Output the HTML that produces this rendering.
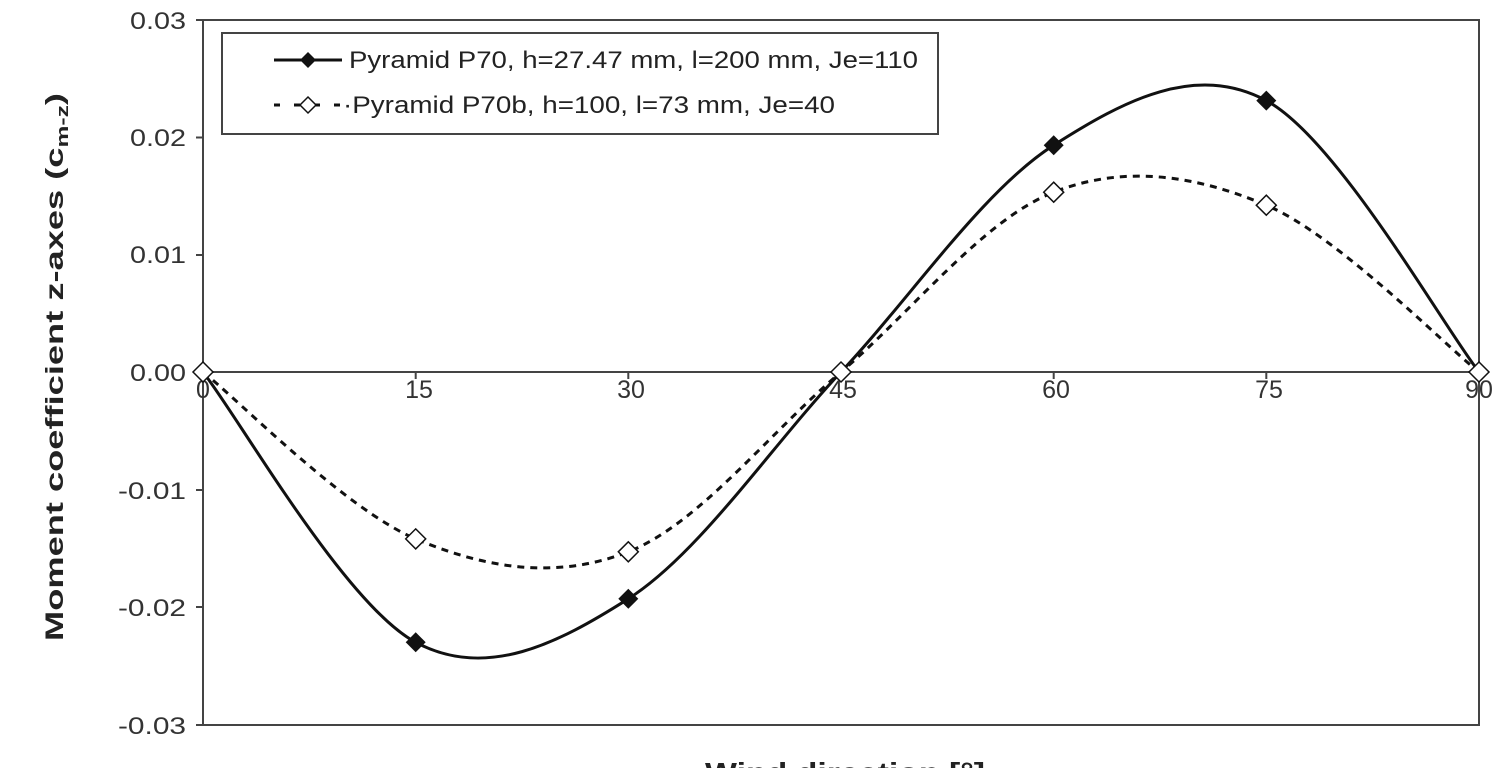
<!DOCTYPE html>
<html><head><meta charset="utf-8"><style>
body{margin:0;background:#fff;width:1502px;height:768px;overflow:hidden}
svg{display:block;font-family:"Liberation Sans",Arial,sans-serif}
</style></head><body>
<svg id="s" width="1502" height="768" viewBox="0 0 1502 768">
<rect x="203" y="20" width="1276" height="705" fill="none" stroke="#444" stroke-width="2"/>
<line x1="203" y1="372" x2="1479" y2="372" stroke="#444" stroke-width="2"/>
<g stroke="#444" stroke-width="2">
<line x1="196" y1="20" x2="203" y2="20"/><line x1="196" y1="137.5" x2="203" y2="137.5"/>
<line x1="196" y1="255" x2="203" y2="255"/><line x1="196" y1="372" x2="203" y2="372"/>
<line x1="196" y1="490" x2="203" y2="490"/><line x1="196" y1="607" x2="203" y2="607"/>
<line x1="196" y1="725" x2="203" y2="725"/>
<line x1="415.7" y1="372" x2="415.7" y2="379"/><line x1="628.3" y1="372" x2="628.3" y2="379"/>
<line x1="841" y1="372" x2="841" y2="379"/><line x1="1053.7" y1="372" x2="1053.7" y2="379"/>
<line x1="1266.3" y1="372" x2="1266.3" y2="379"/>
</g>
<g font-size="24" fill="#333" text-anchor="end">
<text x="186" y="29" textLength="56" lengthAdjust="spacingAndGlyphs">0.03</text>
<text x="186" y="146" textLength="56" lengthAdjust="spacingAndGlyphs">0.02</text>
<text x="186" y="263" textLength="56" lengthAdjust="spacingAndGlyphs">0.01</text>
<text x="186" y="381" textLength="56" lengthAdjust="spacingAndGlyphs">0.00</text>
<text x="186" y="499" textLength="68" lengthAdjust="spacingAndGlyphs">-0.01</text>
<text x="186" y="616" textLength="68" lengthAdjust="spacingAndGlyphs">-0.02</text>
<text x="186" y="734" textLength="68" lengthAdjust="spacingAndGlyphs">-0.03</text>
</g>
<g font-size="25" fill="#333" text-anchor="middle">
<text x="203" y="398">0</text><text x="419" y="398">15</text><text x="631" y="398">30</text>
<text x="843" y="398">45</text><text x="1056" y="398">60</text><text x="1269" y="398">75</text>
<text x="1479" y="398">90</text>
</g>
<text transform="translate(63,367) rotate(-90)" text-anchor="middle" font-size="25" font-weight="bold" fill="#222" textLength="548" lengthAdjust="spacingAndGlyphs">Moment coefficient z-axes (c<tspan font-size="17" dy="5">m-z</tspan><tspan dy="-5">)</tspan></text>
<text x="845" y="782" text-anchor="middle" font-size="28" font-weight="bold" fill="#222" textLength="280" lengthAdjust="spacingAndGlyphs">Wind direction [°]</text>
<path id="p1" fill="none" stroke="#111" stroke-width="3"/>
<path id="p2" fill="none" stroke="#111" stroke-width="3" stroke-dasharray="7,6"/>
<g id="m"></g>
<rect x="222" y="33" width="716" height="101" fill="#fff" stroke="#444" stroke-width="2"/>
<line x1="274" y1="60" x2="342" y2="60" stroke="#111" stroke-width="3"/>
<path d="M308 52 L316 60 L308 68 L300 60Z" fill="#111"/>
<line x1="274" y1="105" x2="342" y2="105" stroke="#111" stroke-width="3" stroke-dasharray="6,14"/>
<path d="M308 97 L316 105 L308 113 L300 105Z" fill="#fff" stroke="#111" stroke-width="1.5"/>
<text x="349" y="68" font-size="24" fill="#222" textLength="569" lengthAdjust="spacingAndGlyphs">Pyramid P70, h=27.47 mm, l=200 mm, Je=110</text>
<text x="343" y="113" font-size="24" fill="#222" textLength="492" lengthAdjust="spacingAndGlyphs">·Pyramid P70b, h=100, l=73 mm, Je=40</text>
</svg>
<script>
var X=[203,415.7,628.3,841,1053.7,1266.3,1479];
var A=[372,642.3,598.8,372,145.2,100.6,372],B=[372,538.9,551.8,372,192.2,205.2,372];
function cr(Y){var p=X.map((x,i)=>[x,Y[i]]);var d="M"+p[0];for(var i=0;i<p.length-1;i++){var p0=p[i-1]||p[i],p1=p[i],p2=p[i+1],p3=p[i+2]||p[i+1];var t=1/6;d+=" C"+(p1[0]+(p2[0]-p0[0])*t)+","+(p1[1]+(p2[1]-p0[1])*t)+" "+(p2[0]-(p3[0]-p1[0])*t)+","+(p2[1]-(p3[1]-p1[1])*t)+" "+p2;}return d;}
document.getElementById('p1').setAttribute('d',cr(A));
document.getElementById('p2').setAttribute('d',cr(B));
var g=document.getElementById('m'),h="";
X.forEach((x,i)=>{var s=10;if(i!=0&&i!=3&&i!=6)h+='<path d="M'+x+' '+(A[i]-s)+' L'+(x+s)+' '+A[i]+' L'+x+' '+(A[i]+s)+' L'+(x-s)+' '+A[i]+'Z" fill="#111"/>';});
X.forEach((x,i)=>{var s=10;h+='<path d="M'+x+' '+(B[i]-s)+' L'+(x+s)+' '+B[i]+' L'+x+' '+(B[i]+s)+' L'+(x-s)+' '+B[i]+'Z" fill="#fff" stroke="#111" stroke-width="1.5"/>';});
g.innerHTML=h;
</script>
</body></html>
